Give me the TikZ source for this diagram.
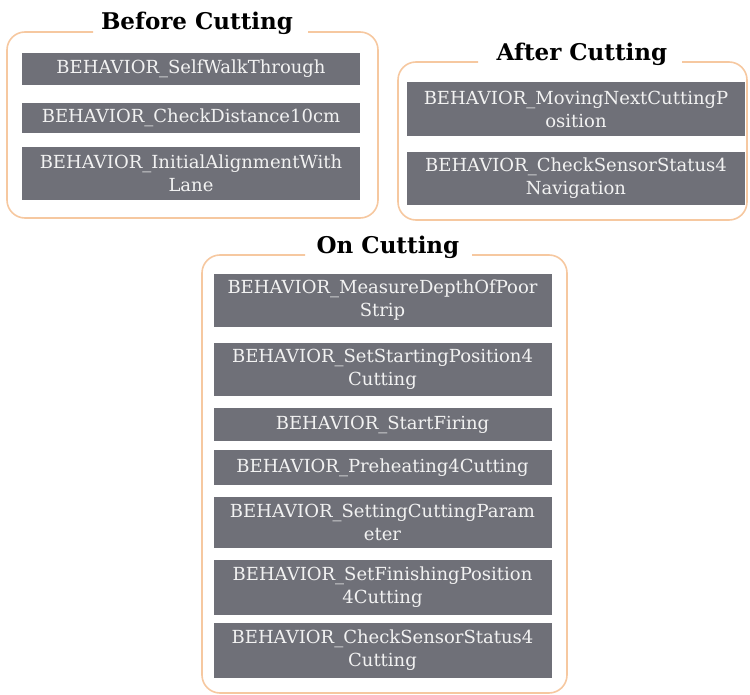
\documentclass[tikz,border=0pt]{standalone}
\usepackage{fontspec}
\setmainfont{DejaVu Serif}
\usepackage{xcolor}
\usepackage{tikz}
\definecolor{cBox}{RGB}{111,112,120}
\definecolor{cFrame}{RGB}{246,200,160}
\definecolor{cTxt}{RGB}{242,242,242}
\tikzset{
  beh/.style={fill=cBox,text=cTxt,align=center,inner sep=0pt,minimum width=338pt,
    font=\fontsize{18}{23}\selectfont},
  grp/.style={draw=cFrame,line width=1.6pt,rounded corners=18pt},
  ttl/.style={font=\fontsize{23}{28}\selectfont\bfseries,text=black}
}

\begin{document}
\begin{tikzpicture}[x=1pt,y=-1pt]
\useasboundingbox (0,0) rectangle (750,695);
% Before Cutting
\draw[grp] (308,32) -- (378,32) -- (378,218) -- (7,218) -- (7,32) -- (93,32);
\node[ttl] (tbc) at (197,23) {Before Cutting};
\node[beh,minimum height=32pt] (bc1) at (191,69) {BEHAVIOR\_SelfWalkThrough};
\node[beh,minimum height=30pt] (bc2) at (191,118) {BEHAVIOR\_CheckDistance10cm};
\node[beh,minimum height=53pt] (bc3) at (191,173.5) {BEHAVIOR\_InitialAlignmentWith\\Lane};
% After Cutting
\draw[grp] (682,62) -- (747,62) -- (747,220) -- (398,220) -- (398,62) -- (478,62);
\node[ttl] (tac) at (582,54) {After Cutting};
\node[beh,minimum height=54pt] (ac1) at (576,109) {BEHAVIOR\_MovingNextCuttingP\\osition};
\node[beh,minimum height=53pt] (ac2) at (576,178.5) {BEHAVIOR\_CheckSensorStatus4\\Navigation};
% On Cutting
\draw[grp] (472,255) -- (567,255) -- (567,693) -- (202,693) -- (202,255) -- (305,255);
\node[ttl] (toc) at (388,247) {On Cutting};
\node[beh,minimum height=53pt] (oc1) at (382.5,300.5) {BEHAVIOR\_MeasureDepthOfPoor\\Strip};
\node[beh,minimum height=53pt] (oc2) at (382.5,369.5) {BEHAVIOR\_SetStartingPosition4\\Cutting};
\node[beh,minimum height=33pt] (oc3) at (382.5,424.5) {BEHAVIOR\_StartFiring};
\node[beh,minimum height=35pt] (oc4) at (382.5,467.5) {BEHAVIOR\_Preheating4Cutting};
\node[beh,minimum height=51pt] (oc5) at (382.5,522.5) {BEHAVIOR\_SettingCuttingParam\\eter};
\node[beh,minimum height=55pt] (oc6) at (382.5,587.5) {BEHAVIOR\_SetFinishingPosition\\4Cutting};
\node[beh,minimum height=55pt] (oc7) at (382.5,650.5) {BEHAVIOR\_CheckSensorStatus4\\Cutting};
\end{tikzpicture}
\end{document}
